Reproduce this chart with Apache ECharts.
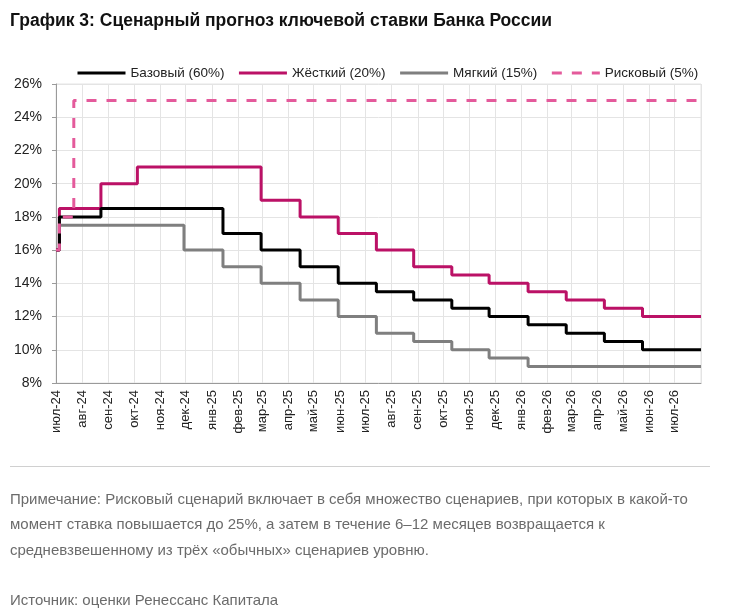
<!DOCTYPE html>
<html>
<head>
<meta charset="utf-8">
<script src="https://cdn.jsdelivr.net/npm/echarts@6/dist/echarts.min.js"></script>
<style>
html,body{margin:0;padding:0;background:#fff;}
#chart{width:738px;height:615px;}
</style>
</head>
<body>
<div id="chart"></div>
<script>
// Dates at which the scenarios change (step points)
const dates = ['2024-07-01','2024-07-05','2024-07-22','2024-08-23','2024-10-05','2024-11-29','2025-01-14','2025-02-28','2025-04-15','2025-05-30','2025-07-14','2025-08-27','2025-10-11','2025-11-24','2026-01-09','2026-02-23','2026-04-09','2026-05-24','2026-08-01'];
const baseValues = [16,18,18,18.5,18.5,18.5,17,16,15,14,13.5,13,12.5,12,11.5,11,10.5,10,10];
const hardValues = [16,18.5,18.5,20,21,21,21,19,18,17,16,15,14.5,14,13.5,13,12.5,12,12];
const softValues = [16,17.5,17.5,17.5,17.5,16,15,14,13,12,11,10.5,10,9.5,9,9,9,9,9];
const riskValues = [16,18,25,25,25,25,25,25,25,25,25,25,25,25,25,25,25,25,25];
const seriesNames = ['Базовый (60%)','Жёсткий (20%)','Мягкий (15%)','Рисковый (5%)'];
const monthNames = ['янв','фев','мар','апр','май','июн','июл','авг','сен','окт','ноя','дек'];
const yTicks = {min: 8, max: 26, step: 2};
const titleText = 'График 3: Сценарный прогноз ключевой ставки Банка России';
const noteLines = [
  'Примечание: Рисковый сценарий включает в себя множество сценариев, при которых в какой-то',
  'момент ставка повышается до 25%, а затем в течение 6–12 месяцев возвращается к',
  'средневзвешенному из трёх «обычных» сценариев уровню.'
];
const sourceText = 'Источник: оценки Ренессанс Капитала';

const FONT = '"Liberation Sans", Arial, sans-serif';
const DAY = 24*3600*1000;
function pairs(vals){ return dates.map((d,i)=>[d, vals[i]]); }

const chart = echarts.init(document.getElementById('chart'));
const colors = ['#000000','#BB1166','#7F7F7F','#E45A9B'];
const valuesList = [baseValues, hardValues, softValues, riskValues];
const xMin = new Date(2024,6,1).getTime();
const xMax = new Date(2026,7,1).getTime();

const graphics = [
  {type:'line', shape:{x1:10,y1:466.5,x2:710,y2:466.5}, style:{stroke:'#d0d0d0', lineWidth:1}}
];
noteLines.forEach((t,i)=>{
  graphics.push({type:'text', left:10, top:492+i*25.5, style:{text:t, fill:'#6b6b6b', font:'15px '+FONT}});
});
graphics.push({type:'text', left:10, top:593, style:{text:sourceText, fill:'#6b6b6b', font:'15px '+FONT}});

chart.setOption({
  animation:false,
  color: colors,
  title:{text:titleText, left:10, top:12, padding:0, textStyle:{fontFamily:FONT, fontWeight:'bold', fontSize:17.5, color:'#111'}},
  legend:{
    left:76, top:66, padding:0, itemWidth:48, itemHeight:14, itemGap:13,
    itemStyle:{opacity:0},
    lineStyle:{width:3},
    textStyle:{fontFamily:FONT, fontSize:13.5, color:'#222'},
    data: seriesNames
  },
  grid:{left:56, right:37, top:84, bottom:232, show:true, borderColor:'#e4e4e4', borderWidth:1},
  xAxis:{
    type:'time',
    min: xMin,
    max: xMax,
    minInterval: 28*DAY,
    maxInterval: 31*DAY,
    axisLine:{show:true, lineStyle:{color:'#9a9a9a'}},
    axisTick:{show:false},
    splitLine:{show:true, lineStyle:{color:'#e4e4e4', width:1}},
    axisLabel:{
      rotate:90, margin:7,
      fontFamily:FONT, fontSize:13, color:'#222',
      formatter:function(v){ if (v >= xMax) return ''; const d=new Date(v); return monthNames[d.getMonth()]+'-'+String(d.getFullYear()%100).padStart(2,'0'); }
    }
  },
  yAxis:{
    type:'value', min:yTicks.min, max:yTicks.max, interval:yTicks.step,
    axisLine:{show:true, lineStyle:{color:'#9a9a9a'}},
    axisTick:{show:true, length:4, lineStyle:{color:'#9a9a9a'}},
    splitLine:{show:true, lineStyle:{color:'#e4e4e4', width:1}},
    axisLabel:{formatter:'{value}%', fontFamily:FONT, fontSize:14, color:'#222', margin:14}
  },
  series: seriesNames.map((n,i)=>({
    name:n, type:'line', step:'end', symbol:'none',
    data: pairs(valuesList[i]),
    lineStyle:{color:colors[i], width:3, type: i===3 ? [10,10] : 'solid'},
    z: i===3 ? 5 : (i===1 ? 3 : (i===0 ? 4 : 2))
  })),
  graphic: graphics
});
</script>
</body>
</html>
